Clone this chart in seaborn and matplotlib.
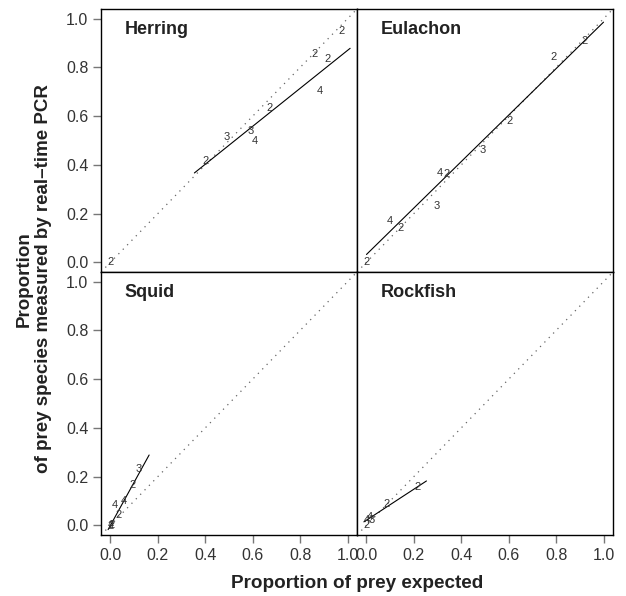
import matplotlib

matplotlib.use("Agg")
import matplotlib.pyplot as plt
import numpy as np
import pandas as pd
import seaborn as sns

sns.set_theme(style="ticks")
plt.rcParams["font.family"] = ["Liberation Sans", "DejaVu Sans"]

herring_x = [0.0, 0.401, 0.491, 0.590, 0.608, 0.671, 0.862, 0.915, 0.882, 0.974]
herring_y = [0.0, 0.415, 0.514, 0.537, 0.497, 0.634, 0.856, 0.833, 0.705, 0.948]
herring_n = ["2", "2", "3", "3", "4", "2", "2", "2", "4", "2"]

eulachon_x = [0.0, 0.098, 0.143, 0.295, 0.309, 0.338, 0.492, 0.605, 0.788, 0.918]
eulachon_y = [0.0, 0.171, 0.140, 0.229, 0.367, 0.363, 0.463, 0.582, 0.842, 0.907]
eulachon_n = ["2", "4", "2", "3", "4", "2", "3", "2", "2", "2"]

squid_x = [0.0, 0.003, 0.001, 0.033, 0.018, 0.058, 0.092, 0.120]
squid_y = [0.0, 0.003, -0.004, 0.044, 0.085, 0.099, 0.167, 0.230]
squid_n = ["4", "2", "2", "2", "4", "4", "2", "3"]

rockfish_x = [0.0, 0.0, 0.014, 0.021, 0.084, 0.215]
rockfish_y = [0.0, 0.023, 0.032, 0.021, 0.089, 0.157]
rockfish_n = ["2", "4", "4", "3", "2", "2"]

# Линии регрессии: наклон, свободный член, диапазон x
fit_slope = [0.779, 0.954, 1.77, 0.636]
fit_intercept = [0.091, 0.032, 0.0, 0.021]
fit_xmin = [0.354, 0.0, -0.01, -0.011]
fit_xmax = [1.011, 1.0, 0.163, 0.253]

species = ["Herring", "Eulachon", "Squid", "Rockfish"]
panels = [
    (herring_x, herring_y, herring_n),
    (eulachon_x, eulachon_y, eulachon_n),
    (squid_x, squid_y, squid_n),
    (rockfish_x, rockfish_y, rockfish_n),
]
ticks = [0.0, 0.2, 0.4, 0.6, 0.8, 1.0]

fig = plt.figure(figsize=(6.26, 5.96), dpi=100)
W, H = 626, 596
boxes = [(101, 9), (357, 9), (101, 272), (357, 272)]
pw, ph = 256, 263

for i, (name, (xs, ys, ns)) in enumerate(zip(species, panels)):
    left, top = boxes[i]
    ax = fig.add_axes([left / W, 1 - (top + ph) / H, pw / W, ph / H])
    ax.set_xlim(-0.04, 1.04)
    ax.set_ylim(-0.04, 1.04)

    # линия 1:1
    diag = pd.DataFrame({"x": [-0.04, 1.04], "y": [-0.04, 1.04]})
    sns.lineplot(data=diag, x="x", y="y", ax=ax, color="0.4",
                 linestyle=(0, (1, 4)), linewidth=0.9)

    # линия регрессии
    fx = np.array([fit_xmin[i], fit_xmax[i]])
    fy = fit_slope[i] * fx + fit_intercept[i]
    sns.lineplot(x=fx, y=fy, ax=ax, color="black", linewidth=0.8)

    for x, y, n in zip(xs, ys, ns):
        ax.text(x, y, n, ha="center", va="center", fontsize=8, color="#333333")

    ax.text(0.06, 0.955, name, ha="left", va="center", fontsize=13,
            fontweight="bold", color="#222222")

    for sp in ax.spines.values():
        sp.set_color("black")
        sp.set_linewidth(1.0)

    ax.set_xlabel("")
    ax.set_ylabel("")
    ax.set_xticks(ticks)
    ax.set_yticks(ticks)
    ax.tick_params(direction="out", length=6, width=1, color="#777777",
                   labelcolor="#333333", labelsize=11.5, pad=3)
    if i % 2 == 1:
        ax.tick_params(axis="y", left=False, labelleft=False)
    else:
        ax.set_yticklabels([f"{t:.1f}" for t in ticks])
    if i < 2:
        ax.tick_params(axis="x", bottom=False, labelbottom=False)
    else:
        ax.set_xticklabels([f"{t:.1f}" for t in ticks])

fig.text(357 / W, 1 - 583 / H, "Proportion of prey expected", ha="center",
         va="center", fontsize=13.6, fontweight="bold", color="#222222")
fig.text(24 / W, 1 - 279 / H, "Proportion", ha="center", va="center",
         rotation=90, fontsize=13.5, fontweight="bold", color="#222222")
fig.text(44 / W, 1 - 279 / H, "of prey species measured by real–time PCR",
         ha="center", va="center", rotation=90, fontsize=13.5,
         fontweight="bold", color="#222222")

fig.savefig("out.png", dpi=100)
